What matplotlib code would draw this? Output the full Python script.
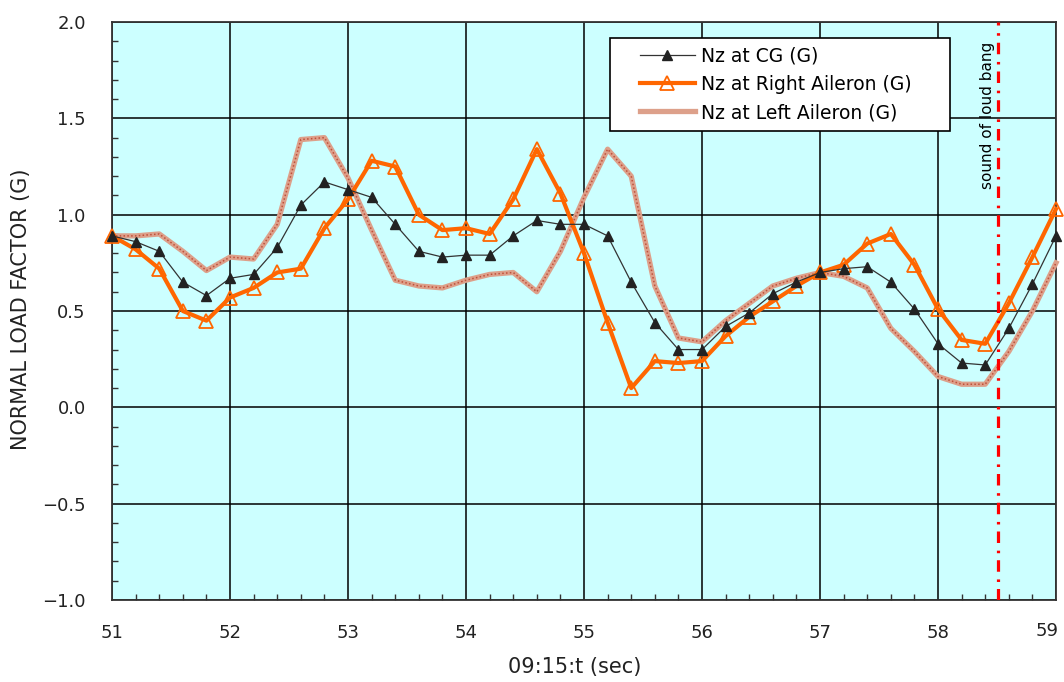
import matplotlib
matplotlib.use("Agg")
import matplotlib.pyplot as plt
from matplotlib.ticker import MultipleLocator, FuncFormatter
from matplotlib.patches import Rectangle

# 時刻 (09:15:xx 秒)
t_sec = [51.0, 51.2, 51.4, 51.6, 51.8, 52.0, 52.2, 52.4, 52.6, 52.8,
         53.0, 53.2, 53.4, 53.6, 53.8, 54.0, 54.2, 54.4, 54.6, 54.8,
         55.0, 55.2, 55.4, 55.6, 55.8, 56.0, 56.2, 56.4, 56.6, 56.8,
         57.0, 57.2, 57.4, 57.6, 57.8, 58.0, 58.2, 58.4, 58.6, 58.8,
         59.0]

nz_cg = [0.89, 0.86, 0.81, 0.65, 0.58, 0.67, 0.69, 0.83, 1.05, 1.17,
         1.13, 1.09, 0.95, 0.81, 0.78, 0.79, 0.79, 0.89, 0.97, 0.95,
         0.95, 0.89, 0.65, 0.44, 0.30, 0.30, 0.42, 0.49, 0.59, 0.65,
         0.70, 0.72, 0.73, 0.65, 0.51, 0.33, 0.23, 0.22, 0.41, 0.64,
         0.89]

nz_right = [0.89, 0.82, 0.72, 0.50, 0.45, 0.57, 0.62, 0.70, 0.72, 0.93,
            1.08, 1.28, 1.25, 1.00, 0.92, 0.93, 0.90, 1.08, 1.34, 1.11,
            0.80, 0.44, 0.10, 0.24, 0.23, 0.24, 0.37, 0.47, 0.55, 0.63,
            0.70, 0.74, 0.85, 0.90, 0.74, 0.51, 0.35, 0.33, 0.54, 0.78,
            1.03]

nz_left = [0.89, 0.89, 0.90, 0.81, 0.71, 0.78, 0.77, 0.95, 1.39, 1.40,
           1.19, 0.92, 0.66, 0.63, 0.62, 0.66, 0.69, 0.70, 0.60, 0.81,
           1.09, 1.34, 1.20, 0.63, 0.36, 0.34, 0.45, 0.54, 0.63, 0.67,
           0.70, 0.68, 0.62, 0.41, 0.29, 0.16, 0.12, 0.12, 0.29, 0.50,
           0.75]

bang_time = 58.51
t_min, t_max = 51, 59

fig = plt.figure(figsize=(10.64, 6.82), dpi=100)
ax = fig.add_axes([0.1053, 0.1202, 0.8872, 0.8475])
ax.set_facecolor('#CCFFFF')

# 左エルロン: 点描風の太線
ax.plot(t_sec, nz_left, color='#DDA08A', lw=3.8, zorder=3, clip_on=False,
        label='Nz at Left Aileron (G)')
ax.plot(t_sec, nz_left, color='#C0503A', lw=1.1, dashes=(1, 1.5), zorder=3,
        clip_on=False)

ax.plot(t_sec, nz_right, color='#FF6600', lw=3, marker='^', ms=10,
        mfc='none', mec='#FF6600', mew=1.3, zorder=4, clip_on=False,
        label='Nz at Right Aileron (G)')

ax.plot(t_sec, nz_cg, color='#333333', lw=0.9, marker='^', ms=6.5,
        mfc='#222222', mec='#222222', zorder=5, clip_on=False,
        label='Nz at CG (G)')

ax.axvline(bang_time, color='#FF0000', lw=2.3, dashes=(3.6, 2.2, 0.8, 2.4),
           zorder=6)
ax.text(bang_time - 0.025, 1.9, 'sound of loud bang', rotation=90,
        ha='right', va='top', fontsize=11, color='black', zorder=7)

ax.set_xlim(t_min, t_max)
ax.set_ylim(-1.0, 2.0)
ax.xaxis.set_major_locator(MultipleLocator(1))
ax.xaxis.set_minor_locator(MultipleLocator(0.2))
ax.yaxis.set_major_locator(MultipleLocator(0.5))
ax.yaxis.set_minor_locator(MultipleLocator(0.1))
ax.yaxis.set_major_formatter(
    FuncFormatter(lambda v, pos: f'{v:.1f}'.replace('-', '\u2212')))
# 右端の目盛ラベルは枠内に収めるため別に描く
ax.xaxis.set_major_formatter(
    FuncFormatter(lambda v, pos: '' if round(v) == t_max else f'{v:.0f}'))
ax.annotate(f'{t_max}', xy=(t_max, 0), xycoords=('data', 'axes fraction'),
            xytext=(1.5, -16), textcoords='offset points',
            ha='right', va='top', fontsize=13, color='#222222')

ax.grid(True, which='major', color='black', lw=1.1)
ax.set_axisbelow(True)
ax.tick_params(which='major', length=0, labelsize=13, colors='#222222')
ax.tick_params(axis='y', which='major', pad=19)
ax.tick_params(axis='x', which='major', pad=17)
ax.tick_params(which='minor', direction='in', length=4, width=1,
               color='#333333')
for s in ax.spines.values():
    s.set_color('#333333')
    s.set_linewidth(1.3)

ax.set_ylabel('NORMAL LOAD FACTOR (G)', fontsize=15, color='#222222')
ax.set_xlabel('09:15:t (sec)', fontsize=15, color='#222222')
ax.yaxis.set_label_coords(-0.0858, 0.503)
ax.xaxis.set_label_coords(0.49, -0.098)

# 凡例の枠
ax.add_patch(Rectangle((0.5275, 0.8114), 0.3602, 0.1609,
                       transform=ax.transAxes, facecolor='white',
                       edgecolor='black', lw=1.2, zorder=9, clip_on=False))

handles, labels = ax.get_legend_handles_labels()
order = [2, 1, 0]
leg = ax.legend([handles[i] for i in order], [labels[i] for i in order],
                loc='upper left', bbox_to_anchor=(0.5595, 0.958),
                frameon=False, fontsize=13.5, handlelength=2.9,
                handletextpad=0.35, borderpad=0, labelspacing=0.5,
                borderaxespad=0)
leg.set_zorder(10)

fig.savefig('out.png', dpi=100)
